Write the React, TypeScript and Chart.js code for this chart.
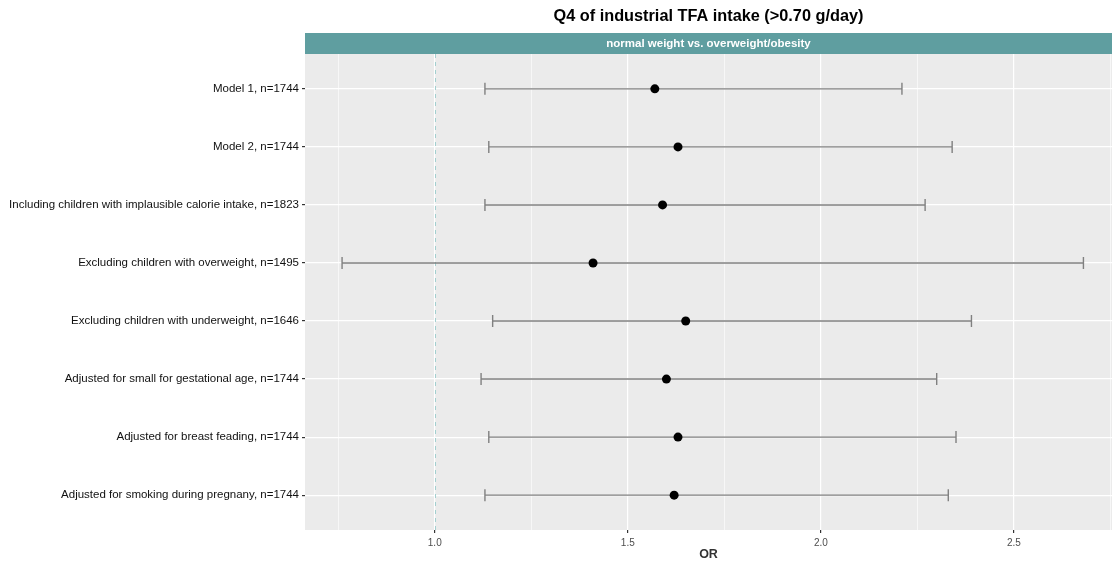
import React, { useEffect, useRef } from 'react';
import { Chart, registerables } from 'chart.js';

Chart.register(...registerables);

const chartTitle = 'Q4 of industrial TFA intake (>0.70 g/day)';
const stripLabel = 'normal weight vs. overweight/obesity';
const xAxisTitle = 'OR';

const categories = [
  'Model 1, n=1744',
  'Model 2, n=1744',
  'Including children with implausible calorie intake, n=1823',
  'Excluding children with overweight, n=1495',
  'Excluding children with underweight, n=1646',
  'Adjusted for small for gestational age, n=1744',
  'Adjusted for breast feading, n=1744',
  'Adjusted for smoking during pregnany, n=1744',
];
const orValues = [1.57, 1.63, 1.59, 1.41, 1.65, 1.60, 1.63, 1.62];
const lowerCI = [1.13, 1.14, 1.13, 0.76, 1.15, 1.12, 1.14, 1.13];
const upperCI = [2.21, 2.34, 2.27, 2.68, 2.39, 2.30, 2.35, 2.33];
const xMajorTicks = [1.0, 1.5, 2.0, 2.5];
const xMinorTicks = [0.75, 1.25, 1.75, 2.25, 2.75];
const referenceLine = 1.0;
const xMin = 0.664;
const xMax = 2.754;

const FONT = "'Liberation Sans', Arial, sans-serif";
const isMajor = (v: number) => xMajorTicks.some((m) => Math.abs(m - v) < 1e-6);

const decorPlugin = {
  id: 'decor',
  beforeDraw(chart: any) {
    const { ctx, chartArea, width, height } = chart;
    ctx.save();
    ctx.fillStyle = '#ffffff';
    ctx.fillRect(0, 0, width, height);
    ctx.fillStyle = '#ebebeb';
    ctx.fillRect(chartArea.left, chartArea.top, chartArea.right - chartArea.left, chartArea.bottom - chartArea.top);
    ctx.restore();
  },
  beforeDatasetsDraw(chart: any) {
    const { ctx, chartArea, scales } = chart;
    const xs = scales.x;
    const ys = scales.y;
    ctx.save();
    ctx.beginPath();
    ctx.rect(chartArea.left, chartArea.top, chartArea.right - chartArea.left, chartArea.bottom - chartArea.top);
    ctx.clip();
    // reference line
    const rx = Math.round(xs.getPixelForValue(referenceLine)) + 0.5;
    ctx.strokeStyle = '#a3cfcf';
    ctx.lineWidth = 1;
    ctx.setLineDash([4, 4]);
    ctx.beginPath();
    ctx.moveTo(rx, chartArea.top);
    ctx.lineTo(rx, chartArea.bottom);
    ctx.stroke();
    ctx.setLineDash([]);
    // error bars
    ctx.strokeStyle = '#808080';
    ctx.lineWidth = 1.4;
    categories.forEach((_, i) => {
      const y = ys.getPixelForValue(i + 1);
      const x1 = xs.getPixelForValue(lowerCI[i]);
      const x2 = xs.getPixelForValue(upperCI[i]);
      ctx.beginPath();
      ctx.moveTo(x1, y);
      ctx.lineTo(x2, y);
      ctx.moveTo(x1, y - 6);
      ctx.lineTo(x1, y + 6);
      ctx.moveTo(x2, y - 6);
      ctx.lineTo(x2, y + 6);
      ctx.stroke();
    });
    ctx.restore();
  },
  afterDraw(chart: any) {
    const { ctx, chartArea } = chart;
    ctx.save();
    const cx = (chartArea.left + chartArea.right) / 2;
    ctx.fillStyle = '#5f9ea0';
    ctx.fillRect(chartArea.left, 33, chartArea.right - chartArea.left, chartArea.top - 33);
    ctx.fillStyle = '#ffffff';
    ctx.font = `bold 11.5px ${FONT}`;
    ctx.textAlign = 'center';
    ctx.textBaseline = 'middle';
    ctx.fillText(stripLabel, cx, (33 + chartArea.top) / 2);
    ctx.fillStyle = '#000000';
    ctx.font = `bold 16.3px ${FONT}`;
    ctx.fillText(chartTitle, cx, 17);
    ctx.restore();
  },
};

export default function App() {
  const ref = useRef<HTMLCanvasElement | null>(null);
  useEffect(() => {
    document.body.style.margin = '0';
    const canvas = ref.current;
    if (!canvas) return;
    const chart = new Chart(canvas, {
      type: 'scatter',
      data: {
        datasets: [
          {
            data: orValues.map((v, i) => ({ x: v, y: i + 1 })),
            backgroundColor: '#000000',
            borderColor: '#000000',
            borderWidth: 0,
            pointRadius: 4.5,
            pointHoverRadius: 4.5,
          },
        ],
      },
      options: {
        responsive: false,
        animation: false,
        events: [],
        layout: { autoPadding: false, padding: { top: 54, left: 0, right: 0, bottom: 0 } },
        plugins: {
          legend: { display: false },
          tooltip: { enabled: false },
          title: { display: false },
        },
        scales: {
          x: {
            type: 'linear',
            min: xMin,
            max: xMax,
            bounds: 'data',
            afterBuildTicks: (scale: any) => {
              scale.ticks = [...xMinorTicks, ...xMajorTicks]
                .sort((a, b) => a - b)
                .map((v) => ({ value: v }));
            },
            afterFit: (scale: any) => {
              scale.height = 35;
              scale.paddingLeft = 0;
              scale.paddingRight = 0;
            },
            border: { display: false },
            grid: {
              color: '#ffffff',
              lineWidth: (c: any) => (c.tick && isMajor(c.tick.value) ? 1.2 : 0.6),
              tickColor: (c: any) => (c.tick && isMajor(c.tick.value) ? '#333333' : 'rgba(0,0,0,0)'),
              tickLength: 3,
            },
            ticks: {
              autoSkip: false,
              maxRotation: 0,
              padding: 4,
              color: '#4d4d4d',
              font: { family: FONT, size: 10 },
              callback: (v: any) => (isMajor(Number(v)) ? Number(v).toFixed(1) : ''),
            },
            title: {
              display: true,
              text: xAxisTitle,
              color: '#333333',
              font: { family: FONT, size: 12.5, weight: 'bold' },
              padding: { top: 0, bottom: 3 },
            },
          },
          y: {
            type: 'linear',
            min: 0.4,
            max: 8.6,
            reverse: true,
            bounds: 'data',
            afterBuildTicks: (scale: any) => {
              scale.ticks = categories.map((_, i) => ({ value: i + 1 }));
            },
            afterFit: (scale: any) => {
              scale.width = 305;
              scale.paddingTop = 0;
              scale.paddingBottom = 0;
            },
            border: { display: false },
            grid: {
              color: '#ffffff',
              lineWidth: 1.2,
              tickColor: '#333333',
              tickLength: 3,
            },
            ticks: {
              autoSkip: false,
              padding: 3,
              color: '#111111',
              font: { family: FONT, size: 11.5 },
              callback: (v: any) => categories[Math.round(Number(v)) - 1] ?? '',
            },
          },
        },
      },
      plugins: [decorPlugin],
    } as any);
    return () => chart.destroy();
  }, []);
  return <canvas ref={ref} width={1112} height={565} style={{ display: 'block' }} />;
}
